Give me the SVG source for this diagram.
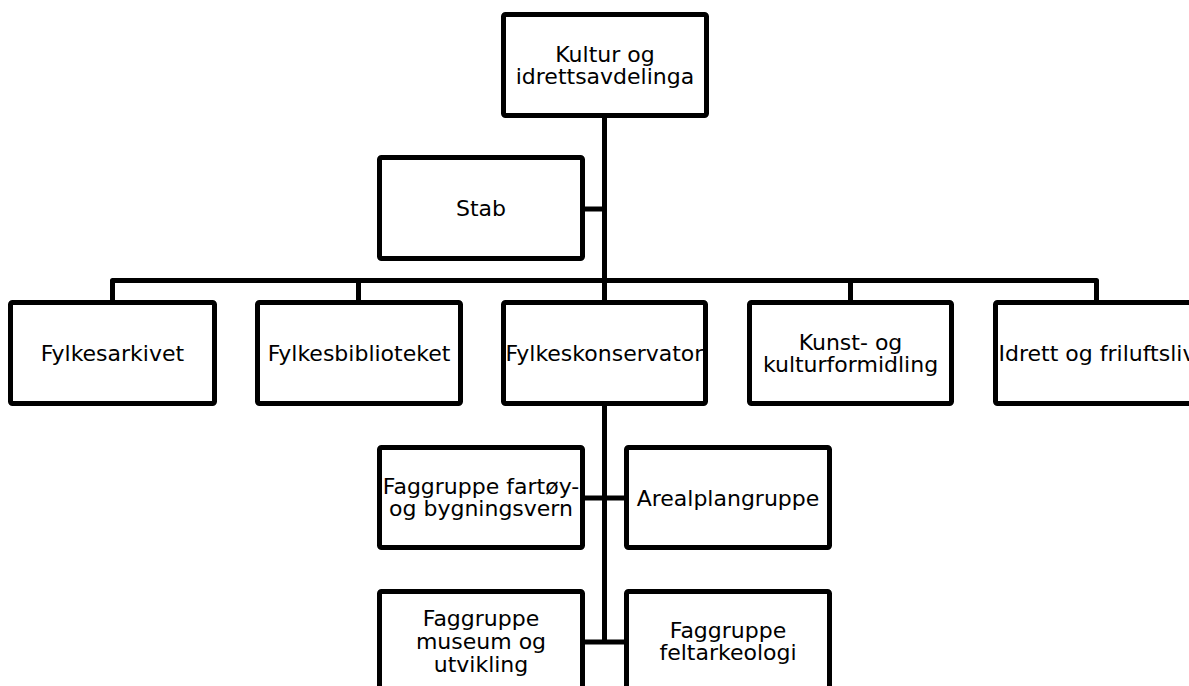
<svg xmlns="http://www.w3.org/2000/svg" width="1189" height="686" viewBox="0 0 1189 686">
<style>
.box{fill:#fff;stroke:#000;stroke-width:5;stroke-linejoin:round}
.lbl{font-family:"DejaVu Sans","Verdana",sans-serif;font-size:22px;fill:#000;text-anchor:middle}
.con{fill:none;stroke:#000;stroke-width:5;stroke-linejoin:round}
</style>
<rect width="1189" height="686" fill="#fff"/>
<g id="connectors">
<path class="con" d="M604.5 116 V300"/>
<path class="con" d="M582 209 H604.5"/>
<path class="con" d="M112.5 300 V280.5 H1096.5 V300"/>
<path class="con" d="M358.5 280.5 V300"/>
<path class="con" d="M850.5 280.5 V300"/>
<path class="con" d="M604.5 404 V642.5"/>
<path class="con" d="M582 498 H627"/>
<path class="con" d="M582 642 H627"/>
</g>
<g id="n-top">
<rect class="box" x="503.5" y="14.5" width="203" height="101" rx="2"/>
<text class="lbl" x="605" y="62">Kultur og</text>
<text class="lbl" x="605" y="84">idrettsavdelinga</text>
</g>
<g id="n-stab">
<rect class="box" x="379.5" y="157.5" width="203" height="101" rx="2"/>
<text class="lbl" x="481" y="216">Stab</text>
</g>
<g id="n-arkiv">
<rect class="box" x="10.5" y="302.5" width="204" height="101" rx="2"/>
<text class="lbl" x="112.5" y="361">Fylkesarkivet</text>
</g>
<g id="n-bibl">
<rect class="box" x="257.5" y="302.5" width="203" height="101" rx="2"/>
<text class="lbl" x="359" y="361">Fylkesbiblioteket</text>
</g>
<g id="n-kons">
<rect class="box" x="503.5" y="302.5" width="202" height="101" rx="2"/>
<text class="lbl" x="604.5" y="361">Fylkeskonservator</text>
</g>
<g id="n-kunst">
<rect class="box" x="749.5" y="302.5" width="202" height="101" rx="2"/>
<text class="lbl" x="850.5" y="350">Kunst- og</text>
<text class="lbl" x="850.5" y="372">kulturformidling</text>
</g>
<g id="n-idrett">
<rect class="box" x="995.5" y="302.5" width="203" height="101" rx="2"/>
<text class="lbl" x="1097" y="361">Idrett og friluftsliv</text>
</g>
<g id="n-fartoy">
<rect class="box" x="379.5" y="447.5" width="203" height="100" rx="2"/>
<text class="lbl" x="481" y="494">Faggruppe fartøy-</text>
<text class="lbl" x="481" y="516">og bygningsvern</text>
</g>
<g id="n-areal">
<rect class="box" x="626.5" y="447.5" width="203" height="100" rx="2"/>
<text class="lbl" x="728" y="506">Arealplangruppe</text>
</g>
<g id="n-museum">
<rect class="box" x="379.5" y="591.5" width="203" height="101" rx="2"/>
<text class="lbl" x="481" y="626">Faggruppe</text>
<text class="lbl" x="481" y="649">museum og</text>
<text class="lbl" x="481" y="672">utvikling</text>
</g>
<g id="n-felt">
<rect class="box" x="626.5" y="591.5" width="203" height="101" rx="2"/>
<text class="lbl" x="728" y="638">Faggruppe</text>
<text class="lbl" x="728" y="660">feltarkeologi</text>
</g>
</svg>
